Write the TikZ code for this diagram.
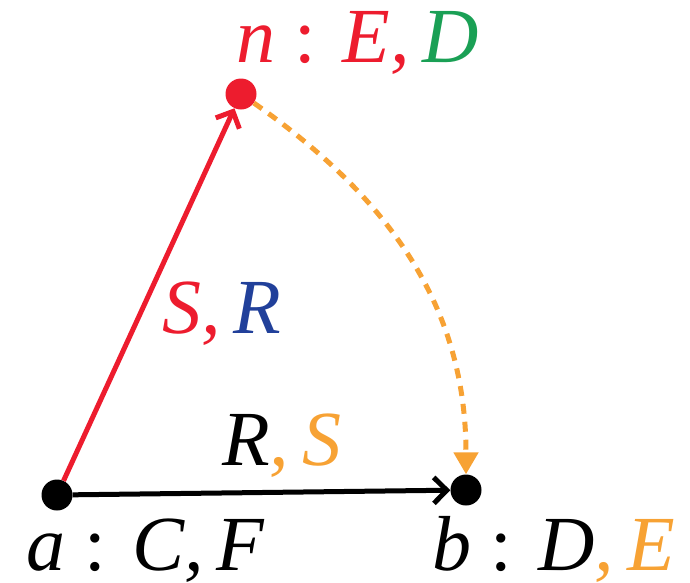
\documentclass[tikz,border=0pt]{standalone}
\usepackage{fontspec}
\newfontfamily\tmsit{Liberation Serif Italic}
\newfontfamily\tms{Liberation Serif}
\usepackage{xcolor}
\usetikzlibrary{arrows.meta,positioning}

\definecolor{rojo}{HTML}{ED1C2E}
\definecolor{verde}{HTML}{1AA055}
\definecolor{azul}{HTML}{21409A}
\definecolor{naranja}{HTML}{F7A234}

\begin{document}
\begin{tikzpicture}[x=1pt,y=-1pt,
  punto/.style={circle,fill,inner sep=0pt,minimum size=31pt},
  etq/.style={anchor=base west,inner sep=0pt,font=\tmsit\fontsize{78}{80}\selectfont},
  fl/.style={-{Straight Barb[length=13pt,width=26pt,line width=5pt]},line width=5pt},
  dsh/.style={-{Triangle[length=22pt,width=24pt]},line width=5pt,dash pattern=on 10pt off 8pt,naranja}]
  \useasboundingbox (0,0) rectangle (690,582);
  \node[punto] (a) at (57,495) {};
  \node[punto] (b) at (466,490) {};
  \node[punto,rojo] (n) at (241,94) {};
  \draw[fl,rojo] (a)--(n);
  \draw[fl] (a)--(b);
  \draw[dsh] (n) to[out=-35,in=90] (b);
  \node[etq] (ln) at (236,62) {\color{rojo}n {\tms:} E,\,\color{verde}D};
  \node[etq] (la) at (26,570) {a {\tms:} C,\,F};
  \node[etq] (lb) at (432,570) {b {\tms:} D\color{naranja},\,E};
  \node[etq] (lsr) at (162,333) {\color{rojo}S,\,\color{azul}R};
  \node[etq] (lrs) at (222,465) {R\color{naranja},\,S};
\end{tikzpicture}
\end{document}
